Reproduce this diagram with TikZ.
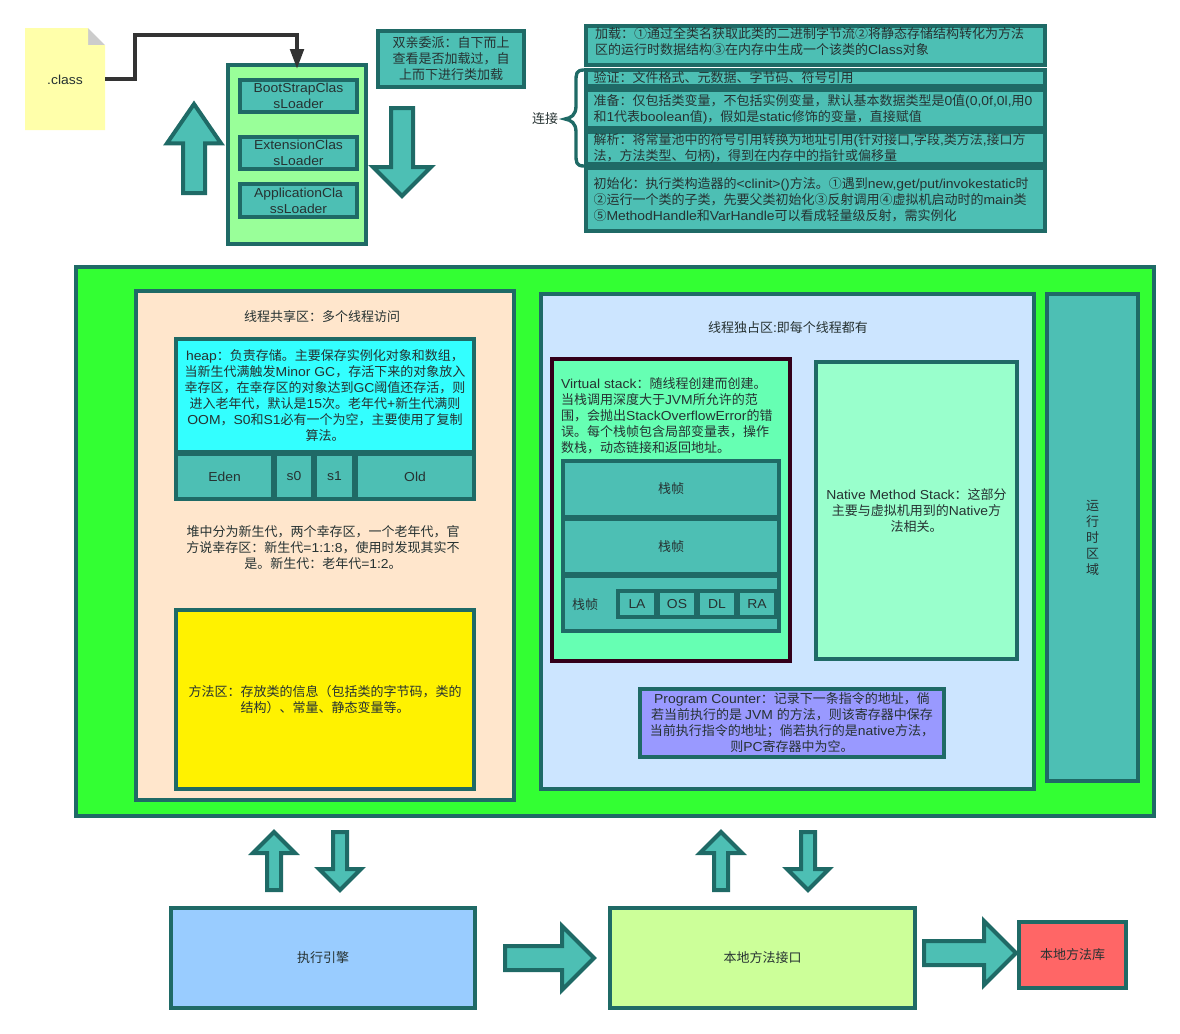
\documentclass[tikz,border=0pt]{standalone}
\usepackage{fontspec}
\setmainfont[FakeStretch=1.07]{Liberation Sans}
\newfontfamily\cjkfont{Noto Sans CJK SC}
\usetikzlibrary{arrows.meta, shapes.arrows}

% switch to the CJK family on Han letters and full-width punctuation
\newXeTeXintercharclass\cjkclass
\newcount\cjkchar
\newcommand{\markcjk}[2]{\cjkchar=#1\relax
  \loop\XeTeXcharclass\cjkchar=\cjkclass\relax\ifnum\cjkchar<#2\relax\advance\cjkchar by 1\relax\repeat}
\markcjk{"4E00}{"9FFF}\markcjk{"3000}{"303F}\markcjk{"FF00}{"FFEF}\markcjk{"2460}{"2473}
\XeTeXinterchartokenstate=1
\XeTeXinterchartoks 0 \cjkclass={\cjkfont}
\XeTeXinterchartoks \cjkclass 0={\rmfamily}
\XeTeXinterchartoks 4095 \cjkclass={\cjkfont}
\XeTeXinterchartoks 4095 0={\rmfamily}

% full-width punctuation
\def\cm{^^^^ff0c}\def\cn{^^^^ff1a}\def\sm{^^^^ff1b}\def\lp{^^^^ff08}\def\rp{^^^^ff09}

\definecolor{edge}{HTML}{1F6A66}
\definecolor{tealf}{HTML}{4DBFB4}
\definecolor{ink}{HTML}{263232}
\definecolor{notef}{HTML}{FFFFAA}
\definecolor{loaderf}{HTML}{99FF99}
\definecolor{runf}{HTML}{33FF33}
\definecolor{sharedf}{HTML}{FFE6CC}
\definecolor{heapf}{HTML}{33FFFF}
\definecolor{ownf}{HTML}{CCE5FF}
\definecolor{vstackf}{HTML}{66FFB3}
\definecolor{vstackd}{HTML}{33001A}
\definecolor{nativef}{HTML}{99FFCC}
\definecolor{pcf}{HTML}{9999FF}
\definecolor{enginef}{HTML}{99CCFF}
\definecolor{jnif}{HTML}{CCFF99}
\definecolor{libf}{HTML}{FF6666}
\def\px{0.75pt}
\tikzset{
  every node/.append style={font=\fontsize{9.75}{12}\selectfont, text=ink, inner sep=0pt, outer sep=0pt, align=center},
  b/.style 2 args={draw=edge, line width=3pt, fill=tealf, anchor=north west,
    minimum width=(#1-2)*\px, minimum height=(#2-2)*\px},
  load/.style={b={461}{#1}, text width=444*\px, align=left},
  % block arrows: #1 half shaft, #2 head overhang, #3 length, #4 direction
  blk/.style n args={4}{single arrow, draw=edge, line width=3pt, fill=tealf, anchor=tail,
    inner sep=#1*\px, single arrow head extend=#2*\px,
    minimum height=#3*\px, shape border rotate=#4}}

\begin{document}
\begin{tikzpicture}[x=0.75pt, y=-0.75pt]
  \useasboundingbox (-1,-1) rectangle (1179,1032);
  % class file and loaders
  \fill[black!20] (87,27)--(104,44)--(87,44)--cycle;
  \fill[notef] (24,27)--(87,27)--(87,44)--(104,44)--(104,129)--(24,129)--cycle;
  \node (cls) at (64,79) {.class};
  \coordinate (clsout) at (104,78);
  \node[b={140}{181}, fill=loaderf] (loader) at (227,64) {};
  \node[b={119}{34}] (boot) at (239,79) {BootStrapClas\\sLoader};
  \node[b={119}{34}] (ext) at (239,136) {ExtensionClas\\sLoader};
  \node[b={119}{35}] (app) at (239,183) {ApplicationCla\\ssLoader};
  \draw[color={black!80}, line width=3pt, -{Triangle[length=15pt, width=10pt]}] (clsout) -| (134,34) -| ([yshift=-3pt]loader.north);
  \node[blk={9}{16}{89}{90}, single arrow tip angle=69] (up) at (193,192) {};
  \node[blk={9}{18}{88}{270}] (down) at (401,107) {};
  \node[b={148}{58}] (parents) at (377,30) {双亲委派\cn 自下而上\\查看是否加载过\cm 自\\上而下进行类加载};

  % class loading steps
  \node (conn) at (544,118) {连接};
  \draw[draw=edge, line width=2.5pt] (583,69) .. controls (575,69) and (575,73) .. (575,81) -- (575,105)
    .. controls (575,114) and (570,117) .. (564,118) .. controls (570,119) and (575,122) .. (575,131)
    -- (575,153) .. controls (575,161) and (575,165) .. (583,165);
  \node[load={41}] (s1) at (585,25) {};
  \node[anchor=west, text width=444*\px, align=left] (s1t) at (594,41) {加载\cn ①通过全类名获取此类的二进制字节流②将静态存储结构转化为方法\\区的运行时数据结构③在内存中生成一个该类的Class对象};
  \node[load={18}] (s2) at (585,69) {验证\cn 文件格式、元数据、字节码、符号引用};
  \node[load={40}] (s3) at (585,89) {准备\cn 仅包括类变量\cm 不包括实例变量\cm 默认基本数据类型是0值(0,0f,0l,用0\\和1代表boolean值)\cm 假如是static修饰的变量\cm 直接赋值};
  \node[load={34}] (s4) at (585,131) {解析\cn 将常量池中的符号引用转换为地址引用(针对接口,字段,类方法,接口方\\法\cm 方法类型、句柄)\cm 得到在内存中的指针或偏移量};
  \node[load={65}] (s5) at (585,167) {初始化\cn 执行类构造器的<clinit>()方法。①遇到new,get/put/invokestatic时\\②运行一个类的子类\cm 先要父类初始化③反射调用④虚拟机启动时的main类\\⑤MethodHandle和VarHandle可以看成轻量级反射\cm 需实例化};

  % runtime data area
  \node[b={1080}{551}, fill=runf] (runtime) at (75,266) {};
  \node[b={380}{511}, fill=sharedf] (shared) at (135,290) {};
  \node (sharedt) at (321,316) {线程共享区\cn 多个线程访问};
  \node[b={300}{115}, fill=heapf] (heap) at (175,338) {heap\cn 负责存储。主要保存实例化对象和数组\cm\\当新生代满触发Minor GC\cm 存活下来的对象放入\\幸存区\cm 在幸存区的对象达到GC阈值还存活\cm 则\\进入老年代\cm 默认是15次。老年代+新生代满则\\OOM\cm S0和S1必有一个为空\cm 主要使用了复制\\算法。};
  \node[b={99}{47}] (eden) at (175,453) {Eden};
  \node[b={40}{47}] (s0) at (274,453) {s0};
  \node[b={41}{47}] (s1b) at (314,453) {s1};
  \node[b={120}{47}] (old) at (355,453) {Old};
  \node (heapnote) at (322,547) {堆中分为新生代\cm 两个幸存区\cm 一个老年代\cm 官\\方说幸存区\cn 新生代=1:1:8\cm 使用时发现其实不\\是。新生代\cn 老年代=1:2。};
  \node[b={300}{181}, fill=yellow] (method) at (175,609) {方法区\cn 存放类的信息\lp 包括类的字节码\cm 类的\\结构\rp 、常量、静态变量等。};

  \node[b={495}{497}, fill=ownf] (own) at (540,293) {};
  \node (ownt) at (787,327) {线程独占区:即每个线程都有};
  \node[b={240}{304}, fill=vstackf, draw=vstackd] (vstack) at (551,358) {};
  \node[anchor=west, align=left] (vstackt) at (560,415) {Virtual stack\cn 随线程创建而创建。\\当栈调用深度大于JVM所允许的范\\围\cm 会抛出StackOverflowError的错\\误。每个栈帧包含局部变量表\cm 操作\\数栈\cm 动态链接和返回地址。};
  \node[b={218}{58}] (f1) at (562,460) {栈帧};
  \node[b={218}{57}] (f2) at (562,518) {栈帧};
  \node[b={218}{57}] (f3) at (562,575) {};
  \node (f3t) at (584,604) {栈帧};
  \foreach \nm/\xx in {LA/617, OS/657, DL/697, RA/737}
    \node[b={40}{28}] (\nm) at (\xx,590) {\nm};
  \node[b={203}{299}, fill=nativef] (native) at (815,361) {Native Method Stack\cn 这部分\\主要与虚拟机用到的Native方\\法相关。};
  \node[b={306}{70}, fill=pcf] (pc) at (639,688) {Program Counter\cn 记录下一条指令的地址\cm 倘\\若当前执行的是 JVM 的方法\cm 则该寄存器中保存\\当前执行指令的地址\sm 倘若执行的是native方法\cm\\则PC寄存器中为空。};
  \node[b={93}{489}] (area) at (1046,293) {运\\行\\时\\区\\域};

  % execution side
  \node[blk={5}{14}{58}{90}] (up1) at (273,889) {};
  \node[blk={5}{14}{58}{270}] (down1) at (339,831) {};
  \node[blk={5}{14}{58}{90}] (up2) at (720,889) {};
  \node[blk={5}{14}{58}{270}] (down2) at (807,831) {};
  \node[b={306}{102}, fill=enginef] (engine) at (170,907) {执行引擎};
  \node[b={307}{102}, fill=jnif] (jni) at (609,907) {本地方法接口};
  \node[b={109}{68}, fill=libf] (lib) at (1018,921) {本地方法库};
  \node[blk={10}{20}{89}{0}] (e2j) at (504,957) {};
  \node[blk={10}{20}{92}{0}] (j2l) at (923,952) {};
\end{tikzpicture}
\end{document}
